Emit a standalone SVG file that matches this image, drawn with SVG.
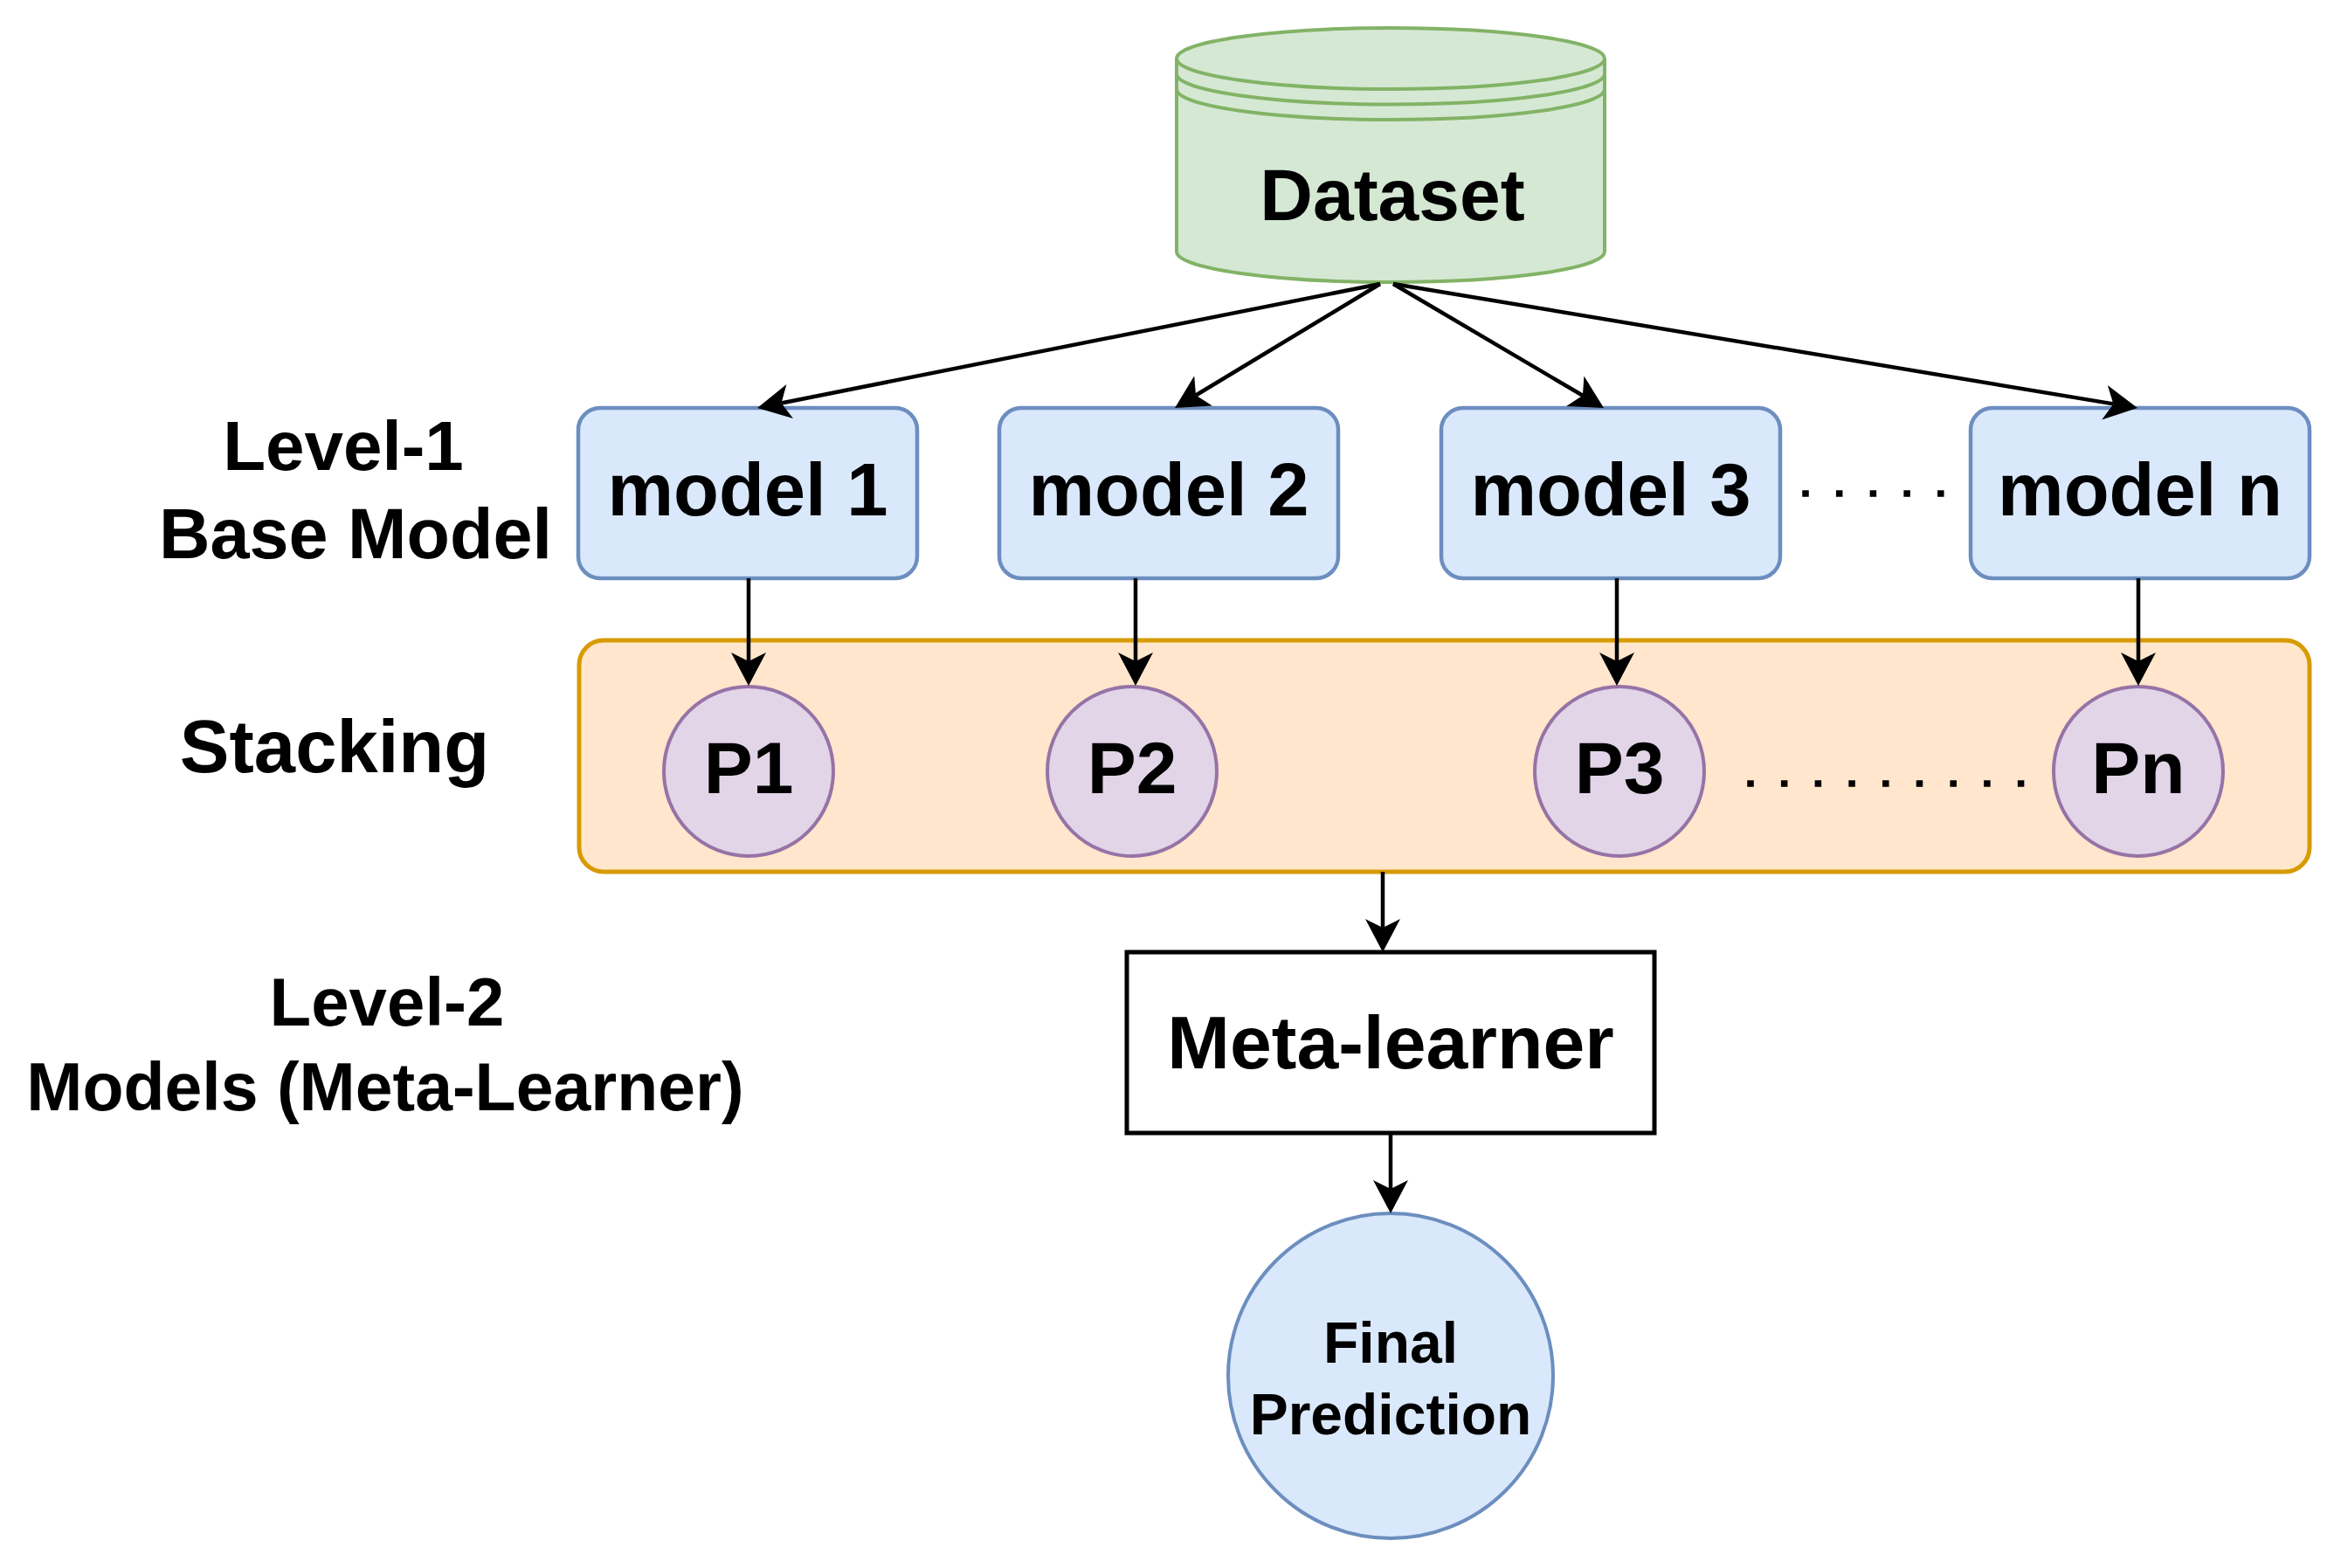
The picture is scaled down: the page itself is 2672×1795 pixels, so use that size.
<svg xmlns="http://www.w3.org/2000/svg" width="2672" height="1795" viewBox="0 0 2672 1795">
<style>
text{font-family:"Liberation Sans",Arial,sans-serif;font-weight:bold;fill:#000;text-anchor:middle}
.model{fill:#dae8fc;stroke:#6c8ebf;stroke-width:4.5}
.pred{fill:#e1d5e7;stroke:#9673a6;stroke-width:4}
.edge{fill:none;stroke:#000;stroke-width:4.5;marker-end:url(#arr)}
.dots{stroke:#000;stroke-width:7.5;stroke-linecap:square;stroke-dasharray:0 38.7;fill:none}
</style>
<defs>
<marker id="arr" markerUnits="userSpaceOnUse" markerWidth="40" markerHeight="42" viewBox="0 0 40 42" refX="10" refY="21" orient="auto">
<path d="M0,1 L38,21 L0,41 L10,21 Z" fill="#000"/>
</marker>
</defs>
<rect width="2672" height="1795" fill="#fff"/>

<g id="labels">
<text x="393" y="538" font-size="80">Level-1</text>
<text x="407" y="639" font-size="81">Base Model</text>
<text x="383" y="884" font-size="85">Stacking</text>
<text x="443" y="1174" font-size="78">Level-2</text>
<text x="441" y="1271" font-size="77">Models (Meta-Learner)</text>
</g>

<g id="stacking">
<rect x="663" y="733" width="1981" height="265" rx="28" fill="#ffe6cc" stroke="#d79b00" stroke-width="5"/>
</g>

<g id="dataset">
<path d="M1347,67 A245,35 0 0 1 1837,67 L1837,288 A245,35 0 0 1 1347,288 Z" fill="#d5e8d4" stroke="#82b366" stroke-width="4"/>
<path d="M1347,67 A245,35 0 0 0 1837,67 M1347,84.5 A245,35 0 0 0 1837,84.5 M1347,102 A245,35 0 0 0 1837,102" fill="none" stroke="#82b366" stroke-width="4"/>
<text x="1594" y="252" font-size="84">Dataset</text>
</g>

<g id="model1"><rect class="model" x="662" y="467" width="388" height="195" rx="25"/><text x="856" y="590" font-size="85">model 1</text></g>
<g id="model2"><rect class="model" x="1144" y="467" width="388" height="195" rx="25"/><text x="1338" y="590" font-size="85">model 2</text></g>
<g id="model3"><rect class="model" x="1650" y="467" width="388" height="195" rx="25"/><text x="1844" y="590" font-size="85">model 3</text></g>
<g id="modeln"><rect class="model" x="2256" y="467" width="388" height="195" rx="25"/><text x="2450" y="590" font-size="85">model n</text></g>

<g id="p1"><circle class="pred" cx="857" cy="883" r="97"/><text x="857" y="908" font-size="84">P1</text></g>
<g id="p2"><circle class="pred" cx="1296" cy="883" r="97"/><text x="1296" y="908" font-size="84">P2</text></g>
<g id="p3"><circle class="pred" cx="1854" cy="883" r="97"/><text x="1854" y="908" font-size="84">P3</text></g>
<g id="pn"><circle class="pred" cx="2448" cy="883" r="97"/><text x="2448" y="908" font-size="84">Pn</text></g>

<g id="ellipsis">
<line class="dots" x1="2067" y1="565" x2="2223" y2="565"/>
<line class="dots" x1="2004" y1="897" x2="2314" y2="897"/>
</g>

<g id="meta-learner">
<rect x="1290" y="1090" width="604" height="207" fill="#fff" stroke="#000" stroke-width="5"/>
<text x="1592" y="1223" font-size="86">Meta-learner</text>
</g>

<g id="final-prediction">
<circle cx="1592" cy="1575" r="186" fill="#dae8fc" stroke="#6c8ebf" stroke-width="4"/>
<text x="1592" y="1560" font-size="66">Final</text>
<text x="1592" y="1642" font-size="66">Prediction</text>
</g>

<g id="connectors">
<line class="edge" x1="1580" y1="325" x2="894.5" y2="461.5"/>
<line class="edge" x1="1580" y1="325" x2="1369" y2="452.5"/>
<line class="edge" x1="1595" y1="325" x2="1811.9" y2="452.8"/>
<line class="edge" x1="1595" y1="325" x2="2419.4" y2="462.4"/>
<line class="edge" x1="857" y1="662" x2="857" y2="757"/>
<line class="edge" x1="1300" y1="662" x2="1300" y2="757"/>
<line class="edge" x1="1851" y1="662" x2="1851" y2="757"/>
<line class="edge" x1="2448" y1="662" x2="2448" y2="757"/>
<line class="edge" x1="1583" y1="998" x2="1583" y2="1062"/>
<line class="edge" x1="1592" y1="1297" x2="1592" y2="1361"/>
</g>
</svg>
